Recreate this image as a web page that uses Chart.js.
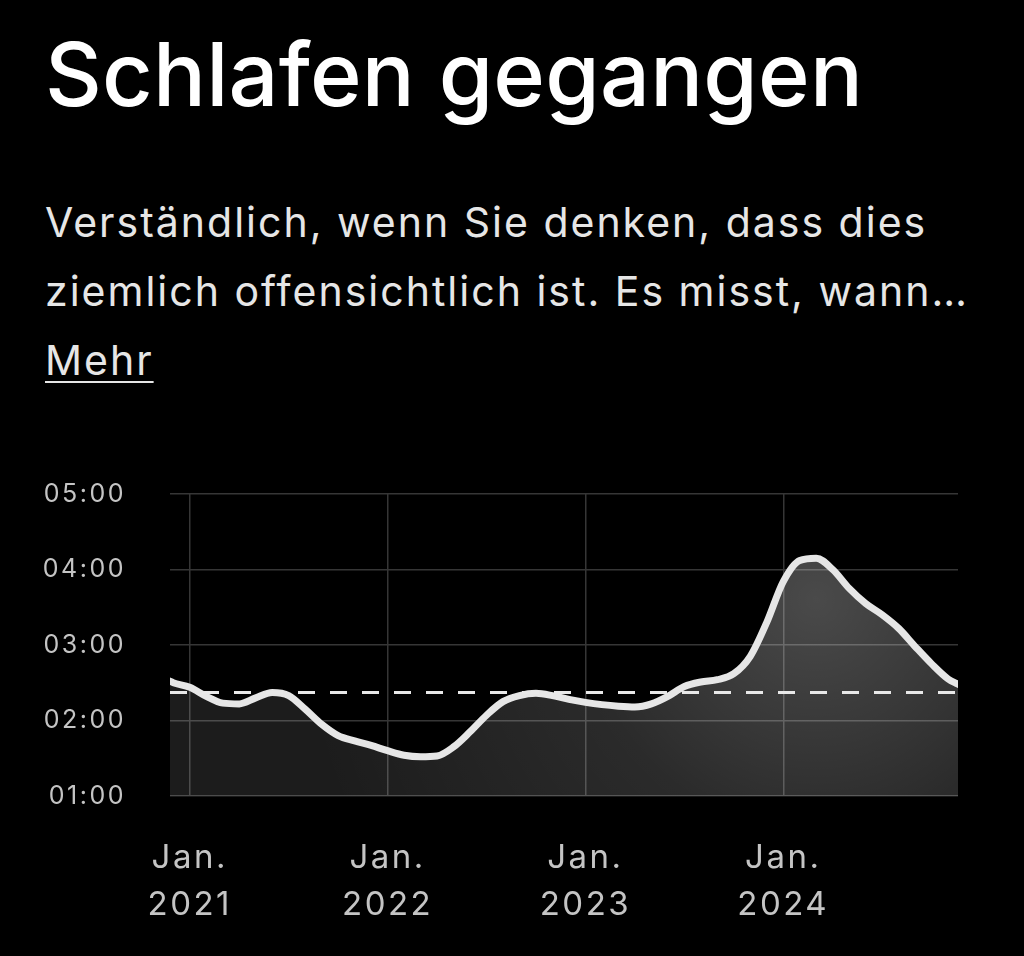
<!DOCTYPE html>
<html lang="de">
<head>
<meta charset="utf-8">
<title>Schlafen gegangen</title>
<script src="https://cdn.jsdelivr.net/npm/chart.js@4.4.1/dist/chart.umd.min.js"></script>
<style>
  html, body { margin: 0; padding: 0; background: #000; }
  body { width: 1024px; height: 956px; position: relative; overflow: hidden; font-family: Inter, "Noto Sans", sans-serif; }
  h1 { position: absolute; left: 45px; top: 19px; margin: 0; font-size: 88px; font-weight: 500; color: #fff; line-height: 110px; letter-spacing: 0.2px; }
  .desc { position: absolute; left: 45px; top: 188px; margin: 0; font-size: 41px; line-height: 69px; color: #e6e6e6; letter-spacing: 2px; }
  .desc a { color: #e6e6e6; text-decoration: underline; text-decoration-thickness: 2px; text-underline-offset: 6px; }
  #wrap { position: absolute; left: 0; top: 435px; width: 1024px; height: 505px; }
</style>
</head>
<body>
<h1>Schlafen gegangen</h1>
<p class="desc">Verständlich, wenn Sie denken, dass dies<br>ziemlich offensichtlich ist. Es misst, wann…<br><a>Mehr</a></p>
<div id="wrap"><canvas id="sleepChart"></canvas></div>
<script>
// months counted from Jan. 2021 (0 = Jan. 2021)
const months = [-1.2, -1, 0, 1, 2, 3, 4, 5, 6, 7, 8, 9, 10, 11, 12, 13, 14, 15, 16, 17, 18, 19, 20, 21, 22, 23,
  24, 25, 26, 27, 28, 29, 30, 31, 32, 33, 34, 35, 36, 37, 38, 39, 40, 41, 42, 43, 44, 45, 46, 46.6];
// bedtime in hours after midnight
const bedtime = [2.52, 2.50, 2.44, 2.32, 2.23, 2.22, 2.30, 2.37, 2.33, 2.15, 1.95, 1.80, 1.73, 1.67, 1.60, 1.54,
  1.52, 1.53, 1.65, 1.85, 2.07, 2.25, 2.33, 2.36, 2.33, 2.28, 2.24, 2.21, 2.19, 2.18, 2.22, 2.32, 2.45, 2.51,
  2.54, 2.62, 2.85, 3.30, 3.84, 4.12, 4.15, 4.00, 3.75, 3.55, 3.40, 3.22, 2.98, 2.75, 2.55, 2.48];
const average = 2.37;
const janMonths = [0, 12, 24, 36];
const janLabels = [['Jan.', '2021'], ['Jan.', '2022'], ['Jan.', '2023'], ['Jan.', '2024']];
const hourTicks = [1, 2, 3, 4, 5];

const xMin = months[0];
const xMax = months[months.length - 1];
const gridColor = '#363636';
const labelColor = '#c4c4c4';

function areaFill(context) {
  const chart = context.chart;
  const area = chart.chartArea;
  if (!area) return 'rgba(255,255,255,0.12)';
  const peak = bedtime.indexOf(Math.max(...bedtime));
  const cx = chart.scales.x.getPixelForValue(months[peak]);
  const cy = chart.scales.y.getPixelForValue(3.6);
  const g = chart.ctx.createRadialGradient(cx, cy, 0, cx, cy, 520);
  g.addColorStop(0, 'rgba(255,255,255,0.29)');
  g.addColorStop(0.45, 'rgba(255,255,255,0.17)');
  g.addColorStop(1, 'rgba(255,255,255,0.11)');
  return g;
}

// wider letter spacing for canvas labels
const spacing = {
  id: 'spacing',
  beforeDraw: chart => { chart.ctx.letterSpacing = '2.5px'; }
};

const ctx = document.getElementById('sleepChart').getContext('2d');
new Chart(ctx, {
  type: 'line',
  data: {
    datasets: [
      {
        label: 'Durchschnitt',
        data: [{ x: xMin, y: average }, { x: xMax, y: average }],
        borderColor: '#e8e8e8',
        borderWidth: 3,
        borderDash: [17, 15],
        pointRadius: 0,
        fill: false,
        order: 0
      },
      {
        label: 'Schlafen gegangen',
        data: months.map((m, i) => ({ x: m, y: bedtime[i] })),
        borderColor: '#e6e6e6',
        borderWidth: 7,
        borderCapStyle: 'round',
        borderJoinStyle: 'round',
        backgroundColor: areaFill,
        fill: 'origin',
        cubicInterpolationMode: 'monotone',
        pointRadius: 0,
        order: 1
      }
    ]
  },
  plugins: [spacing],
  options: {
    responsive: true,
    maintainAspectRatio: false,
    animation: false,
    layout: { padding: { top: 26, right: 66, left: 0, bottom: 0 } },
    plugins: { legend: { display: false }, tooltip: { enabled: false } },
    scales: {
      x: {
        type: 'linear',
        min: xMin,
        max: xMax,
        afterBuildTicks: scale => { scale.ticks = janMonths.map(v => ({ value: v })); },
        afterFit: scale => { scale.height = 144; },
        grid: { color: gridColor, lineWidth: 1.5, drawTicks: false },
        border: { display: false },
        ticks: {
          color: labelColor,
          font: { family: 'Inter', size: 33, lineHeight: 1.43 },
          padding: 38,
          maxRotation: 0,
          autoSkip: false,
          callback: (value) => janLabels[janMonths.indexOf(value)]
        }
      },
      y: {
        min: 1,
        max: 5,
        afterBuildTicks: scale => { scale.ticks = hourTicks.map(v => ({ value: v })); },
        afterFit: scale => { scale.width = 170; },
        grid: { color: gridColor, lineWidth: 1.5, drawTicks: false },
        border: { display: false },
        ticks: {
          color: labelColor,
          font: { family: 'Inter', size: 25 },
          padding: 44,
          callback: value => '0' + value + ':00'
        }
      }
    }
  }
});
</script>
</body>
</html>
